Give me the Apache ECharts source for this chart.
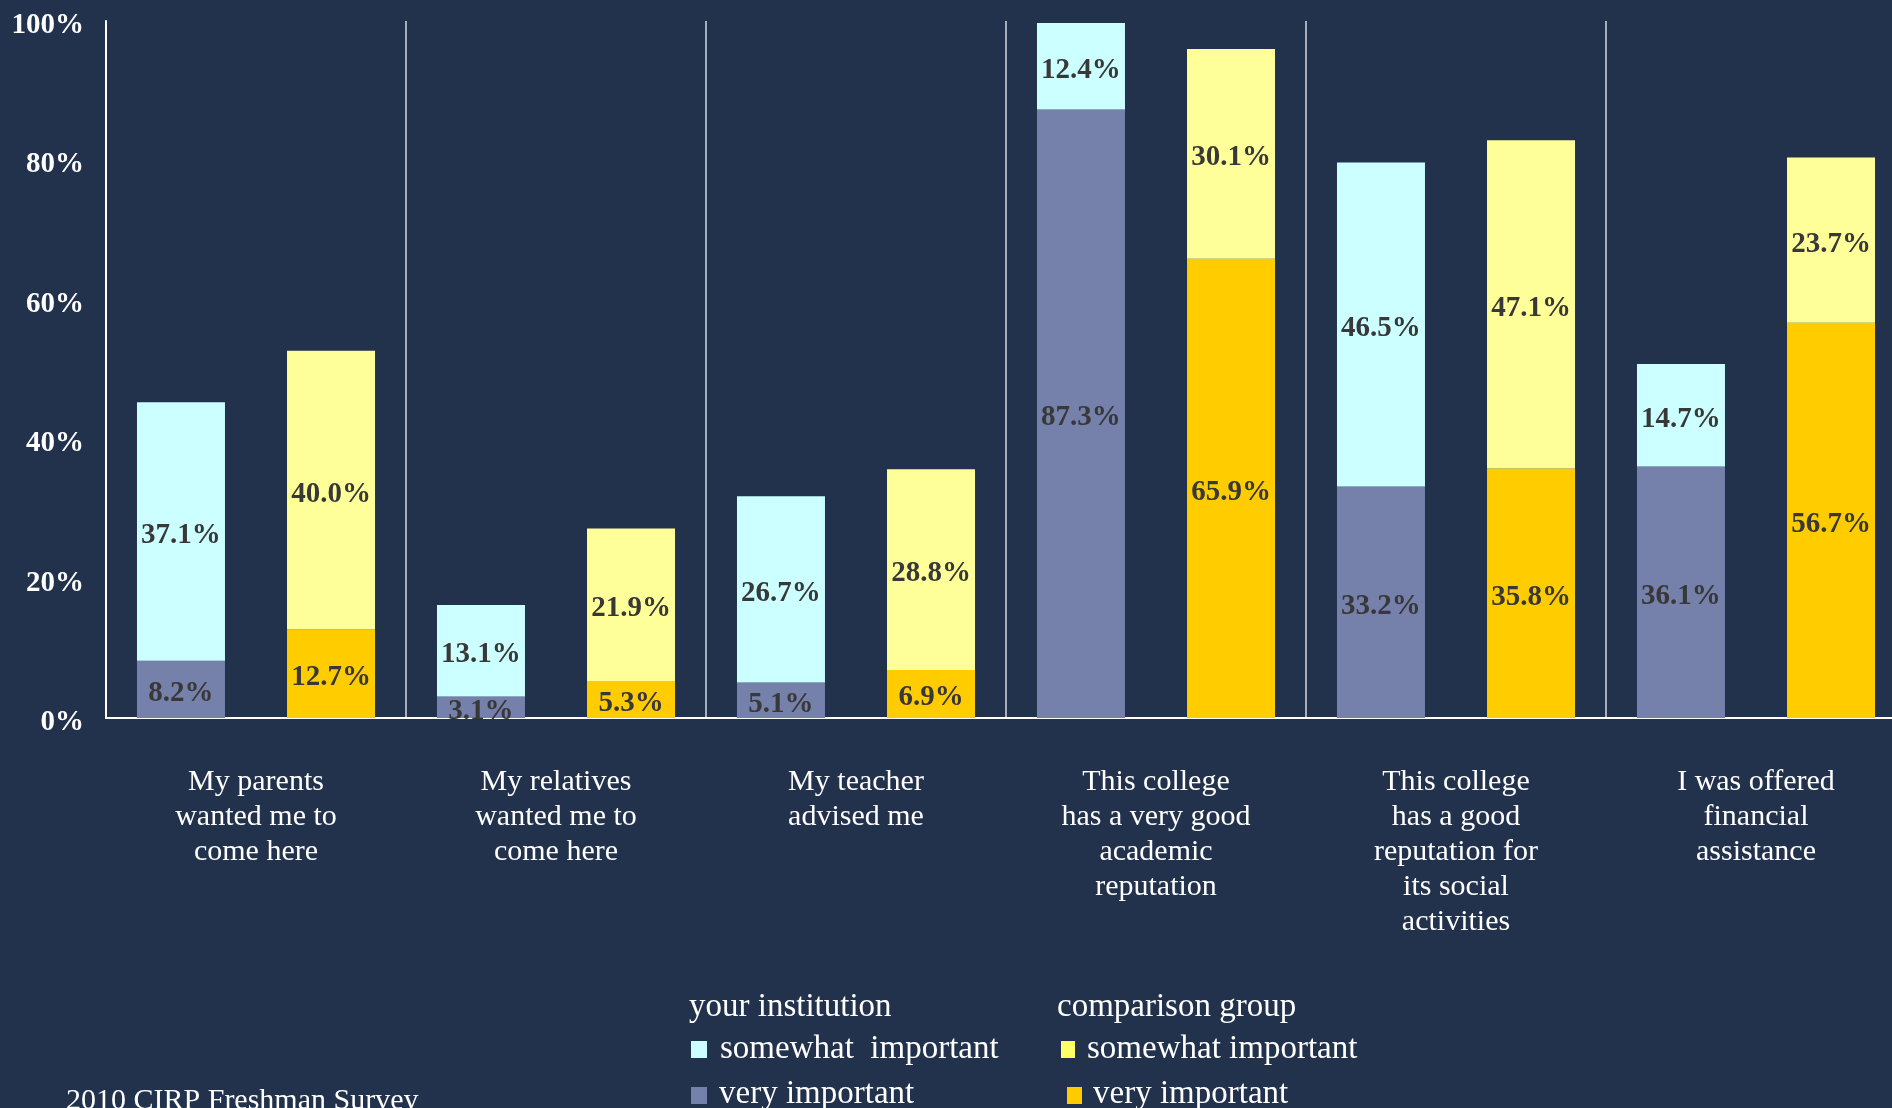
<!DOCTYPE html>
<html>
<head>
<meta charset="utf-8">
<script src="https://cdn.jsdelivr.net/npm/echarts@6/dist/echarts.min.js"></script>
<style>
html,body{margin:0;padding:0;background:#22324c;overflow:hidden;width:1892px;height:1108px;}
#c{width:1930px;height:1108px;}
</style>
</head>
<body>
<div id="c"></div>
<script>
const categories = [
  "My parents\nwanted me to\ncome here",
  "My relatives\nwanted me to\ncome here",
  "My teacher\nadvised me",
  "This college\nhas a very good\nacademic\nreputation",
  "This college\nhas a good\nreputation for\nits social\nactivities",
  "I was offered\nfinancial\nassistance"
];
const instVery = [8.2, 3.1, 5.1, 87.3, 33.2, 36.1];
const instSomewhat = [37.1, 13.1, 26.7, 12.4, 46.5, 14.7];
const compVery = [12.7, 5.3, 6.9, 65.9, 35.8, 56.7];
const compSomewhat = [40.0, 21.9, 28.8, 30.1, 47.1, 23.7];
const yTicks = [0, 20, 40, 60, 80, 100];
const legendHeaders = ["your institution", "comparison group"];
const legendLabels = ["somewhat  important", "very important", "somewhat important", "very important"];
const footer = "2010 CIRP Freshman Survey";

const FONT = "'Liberation Serif', 'DejaVu Serif', serif";
const colors = {
  instVery: "#7580ab",
  instSomewhat: "#ccffff",
  compVery: "#ffcc00",
  compSomewhat: "#ffff99"
};

function mk(key, data, stack) {
  return {
    name: key,
    type: "bar",
    stack: stack,
    data: data,
    barWidth: 88,
    barGap: "70.5%",
    itemStyle: { color: colors[key] },
    label: {
      show: true,
      position: "inside",
      offset: [0, 4],
      formatter: p => p.value.toFixed(1) + "%",
      fontFamily: FONT,
      fontWeight: "bold",
      fontSize: 29,
      color: "#383838"
    },
    emphasis: { disabled: true }
  };
}

function legendText(x, y, text, size) {
  return { type: "text", x: x, y: y, silent: true,
    style: { text: text, fill: "#ffffff", font: size + "px " + FONT, verticalAlign: "middle", align: "left" } };
}
function legendRect(x, y, w, h, color) {
  return { type: "rect", x: x, y: y, silent: true, shape: { width: w, height: h }, style: { fill: color } };
}

const chart = echarts.init(document.getElementById("c"));
chart.setOption({
  backgroundColor: "#22324c",
  animation: false,
  grid: { left: 106, top: 21, right: 24, bottom: 390, containLabel: false, outerBoundsMode: "none" },
  xAxis: {
    type: "category",
    data: categories,
    boundaryGap: true,
    axisTick: { show: false },
    axisLine: { show: true, lineStyle: { color: "#ffffff", width: 2 } },
    splitLine: { show: true, interval: 0, lineStyle: { color: "#d6dae2", width: 1.5 } },
    axisLabel: {
      interval: 0,
      margin: 47,
      color: "#ffffff",
      fontFamily: FONT,
      fontSize: 30,
      lineHeight: 35,
      align: "center"
    }
  },
  yAxis: {
    type: "value",
    min: 0,
    max: 100,
    interval: 20,
    axisLine: { show: true, lineStyle: { color: "#ffffff", width: 2 } },
    axisTick: { show: false },
    splitLine: { show: false },
    axisLabel: {
      margin: 22,
      formatter: v => yTicks.includes(v) ? "{a|" + v + "%}" : "",
      rich: {
        a: {
          color: "#ffffff",
          fontFamily: FONT,
          fontWeight: "bold",
          fontSize: 29,
          lineHeight: 29,
          padding: [9, 0, 0, 0]
        }
      }
    }
  },
  graphic: [
    legendText(689, 1007, legendHeaders[0], 33),
    legendRect(691, 1041, 16, 17, "#ccffff"),
    legendText(720, 1049, legendLabels[0], 33),
    legendRect(691, 1087, 16, 17, "#7580ab"),
    legendText(719, 1094, legendLabels[1], 33),
    legendText(1057, 1007, legendHeaders[1], 33),
    legendRect(1061, 1041, 14, 17, "#ffff66"),
    legendText(1087, 1049, legendLabels[2], 33),
    legendRect(1067, 1087, 15, 17, "#ffcc00"),
    legendText(1093, 1094, legendLabels[3], 33),
    legendText(66, 1101, footer, 30)
  ],
  series: [
    mk("instVery", instVery, "inst"),
    mk("instSomewhat", instSomewhat, "inst"),
    mk("compVery", compVery, "comp"),
    mk("compSomewhat", compSomewhat, "comp")
  ]
});
</script>
</body>
</html>
